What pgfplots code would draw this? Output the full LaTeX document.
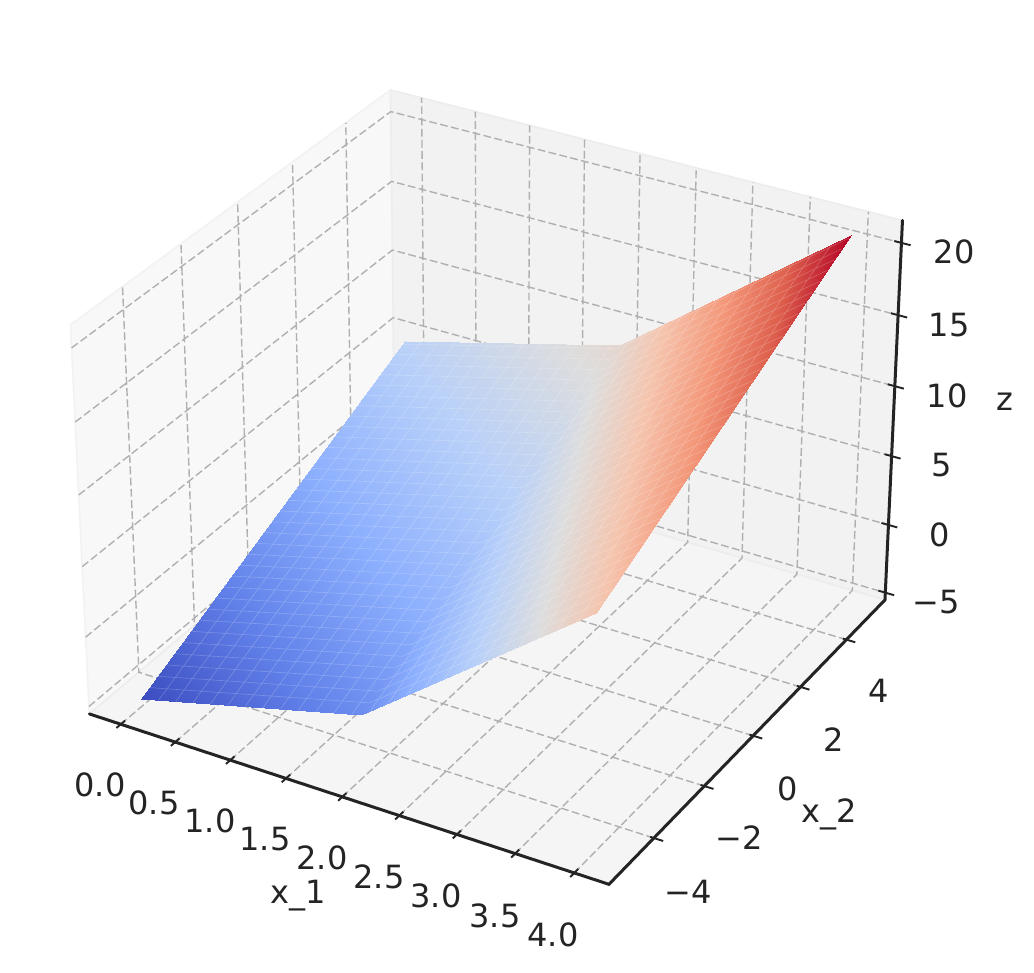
\documentclass[border=0pt]{standalone}
\usepackage{fontspec}
\setmainfont{DejaVu Sans}
\usepackage{pgfplots}
\pgfplotsset{compat=1.18}
\definecolor{ink}{HTML}{242424}
% perspective projection of matplotlib (elev 30, azim -60, dist 10), columns a=x_1, b=x_2, c=z
\newcommand\DEN{(10-(0.11247*(\thisrow{a}-2)-0.07793*\thisrow{b}+0.016485*(\thisrow{c}-8)))}
\newcommand\PX{494.5+5000*(0.22495*(\thisrow{a}-2)+0.05195*\thisrow{b})/\DEN}
\newcommand\PY{466-5020*(-0.06494*(\thisrow{a}-2)+0.04499*\thisrow{b}+0.02826*(\thisrow{c}-8)-0.004)/\DEN}
\pgfplotsset{table/proj/.style={x expr={\PX},y expr={\PY},row sep=\\}}
\newcommand\lab[3]{\node[text=ink,font=\fontsize{16}{18}\selectfont,anchor=center] at (axis cs:#1,#2) {#3};}
\begin{document}
\begin{tikzpicture}
\begin{axis}[
  scale only axis,width=517pt,height=486.5pt,
  xmin=0,xmax=1034,ymin=0,ymax=973,y dir=reverse,
  hide axis,clip=false,unbounded coords=jump,
  colormap={cw}{rgb255=(59,76,192) rgb255=(98,130,234) rgb255=(141,176,254) rgb255=(184,208,249) rgb255=(221,221,221) rgb255=(245,196,173) rgb255=(244,152,122) rgb255=(222,96,77) rgb255=(180,4,38)},
  point meta min=-5,point meta max=21,
]
% page
\addplot[fill=white,draw=none] coordinates {(0,0) (1034,0) (1034,973) (0,973)};
% panes
\addplot[fill=black!2.7,draw=black!5,line width=0.8pt] table[proj] {a b c\\ -0.2917 -5.729 -5.54\\ -0.2917 5.729 -5.54\\ -0.2917 5.729 21.54\\ -0.2917 -5.729 21.54\\ -0.2917 -5.729 -5.54\\};
\addplot[fill=black!5.2,draw=black!7,line width=0.8pt] table[proj] {a b c\\ -0.2917 5.729 -5.54\\ 4.2917 5.729 -5.54\\ 4.2917 5.729 21.54\\ -0.2917 5.729 21.54\\ -0.2917 5.729 -5.54\\};
\addplot[fill=black!4,draw=black!7,line width=0.8pt] table[proj] {a b c\\ -0.2917 -5.729 -5.54\\ 4.2917 -5.729 -5.54\\ 4.2917 5.729 -5.54\\ -0.2917 5.729 -5.54\\ -0.2917 -5.729 -5.54\\};
% grid
\addplot[color=black!31,line width=0.7pt,dash pattern=on 3.9pt off 1.7pt] table[proj] {a b c\\
0 -5.729 -5.54\\ 0 5.729 -5.54\\ 0 5.729 21.54\\ nan nan nan\\
0.5 -5.729 -5.54\\ 0.5 5.729 -5.54\\ 0.5 5.729 21.54\\ nan nan nan\\
1 -5.729 -5.54\\ 1 5.729 -5.54\\ 1 5.729 21.54\\ nan nan nan\\
1.5 -5.729 -5.54\\ 1.5 5.729 -5.54\\ 1.5 5.729 21.54\\ nan nan nan\\
2 -5.729 -5.54\\ 2 5.729 -5.54\\ 2 5.729 21.54\\ nan nan nan\\
2.5 -5.729 -5.54\\ 2.5 5.729 -5.54\\ 2.5 5.729 21.54\\ nan nan nan\\
3 -5.729 -5.54\\ 3 5.729 -5.54\\ 3 5.729 21.54\\ nan nan nan\\
3.5 -5.729 -5.54\\ 3.5 5.729 -5.54\\ 3.5 5.729 21.54\\ nan nan nan\\
4 -5.729 -5.54\\ 4 5.729 -5.54\\ 4 5.729 21.54\\ nan nan nan\\
4.2917 -4 -5.54\\ -0.2917 -4 -5.54\\ -0.2917 -4 21.54\\ nan nan nan\\
4.2917 -2 -5.54\\ -0.2917 -2 -5.54\\ -0.2917 -2 21.54\\ nan nan nan\\
4.2917 0 -5.54\\ -0.2917 0 -5.54\\ -0.2917 0 21.54\\ nan nan nan\\
4.2917 2 -5.54\\ -0.2917 2 -5.54\\ -0.2917 2 21.54\\ nan nan nan\\
4.2917 4 -5.54\\ -0.2917 4 -5.54\\ -0.2917 4 21.54\\ nan nan nan\\
-0.2917 -5.729 -5\\ -0.2917 5.729 -5\\ 4.2917 5.729 -5\\ nan nan nan\\
-0.2917 -5.729 0\\ -0.2917 5.729 0\\ 4.2917 5.729 0\\ nan nan nan\\
-0.2917 -5.729 5\\ -0.2917 5.729 5\\ 4.2917 5.729 5\\ nan nan nan\\
-0.2917 -5.729 10\\ -0.2917 5.729 10\\ 4.2917 5.729 10\\ nan nan nan\\
-0.2917 -5.729 15\\ -0.2917 5.729 15\\ 4.2917 5.729 15\\ nan nan nan\\
-0.2917 -5.729 20\\ -0.2917 5.729 20\\ 4.2917 5.729 20\\
};
% surface
\addplot[surf,shader=interp,mesh/cols=3,point meta={\thisrow{c}}] table[proj] {a b c\\
0 -5 -5\\ 2 -5 -1\\ 4 -5 11\\
0 5 5\\ 2 5 9\\ 4 5 21\\
};
% facet seams
\addplot[color=white,opacity=0.22,line width=0.3pt] table[proj] {a b c\\
0.16 -5 -4.68\\ 0.16 5 5.32\\ nan nan nan\\ 0.32 -5 -4.36\\ 0.32 5 5.64\\ nan nan nan\\
0.48 -5 -4.04\\ 0.48 5 5.96\\ nan nan nan\\ 0.64 -5 -3.72\\ 0.64 5 6.28\\ nan nan nan\\
0.8 -5 -3.4\\ 0.8 5 6.6\\ nan nan nan\\ 0.96 -5 -3.08\\ 0.96 5 6.92\\ nan nan nan\\
1.12 -5 -2.76\\ 1.12 5 7.24\\ nan nan nan\\ 1.28 -5 -2.44\\ 1.28 5 7.56\\ nan nan nan\\
1.44 -5 -2.12\\ 1.44 5 7.88\\ nan nan nan\\ 1.6 -5 -1.8\\ 1.6 5 8.2\\ nan nan nan\\
1.76 -5 -1.48\\ 1.76 5 8.52\\ nan nan nan\\ 1.92 -5 -1.16\\ 1.92 5 8.84\\ nan nan nan\\
2.08 -5 -0.52\\ 2.08 5 9.48\\ nan nan nan\\ 2.24 -5 0.44\\ 2.24 5 10.44\\ nan nan nan\\
2.4 -5 1.4\\ 2.4 5 11.4\\ nan nan nan\\ 2.56 -5 2.36\\ 2.56 5 12.36\\ nan nan nan\\
2.72 -5 3.32\\ 2.72 5 13.32\\ nan nan nan\\ 2.88 -5 4.28\\ 2.88 5 14.28\\ nan nan nan\\
3.04 -5 5.24\\ 3.04 5 15.24\\ nan nan nan\\ 3.2 -5 6.2\\ 3.2 5 16.2\\ nan nan nan\\
3.36 -5 7.16\\ 3.36 5 17.16\\ nan nan nan\\ 3.52 -5 8.12\\ 3.52 5 18.12\\ nan nan nan\\
3.68 -5 9.08\\ 3.68 5 19.08\\ nan nan nan\\ 3.84 -5 10.04\\ 3.84 5 20.04\\ nan nan nan\\
0 -4.7 -4.7\\ 2 -4.7 -0.7\\ 4 -4.7 11.3\\ nan nan nan\\
0 -4.4 -4.4\\ 2 -4.4 -0.4\\ 4 -4.4 11.6\\ nan nan nan\\
0 -4.1 -4.1\\ 2 -4.1 -0.1\\ 4 -4.1 11.9\\ nan nan nan\\
0 -3.8 -3.8\\ 2 -3.8 0.2\\ 4 -3.8 12.2\\ nan nan nan\\
0 -3.5 -3.5\\ 2 -3.5 0.5\\ 4 -3.5 12.5\\ nan nan nan\\
0 -3.2 -3.2\\ 2 -3.2 0.8\\ 4 -3.2 12.8\\ nan nan nan\\
0 -2.9 -2.9\\ 2 -2.9 1.1\\ 4 -2.9 13.1\\ nan nan nan\\
0 -2.6 -2.6\\ 2 -2.6 1.4\\ 4 -2.6 13.4\\ nan nan nan\\
0 -2.3 -2.3\\ 2 -2.3 1.7\\ 4 -2.3 13.7\\ nan nan nan\\
0 -2 -2\\ 2 -2 2\\ 4 -2 14\\ nan nan nan\\
0 -1.7 -1.7\\ 2 -1.7 2.3\\ 4 -1.7 14.3\\ nan nan nan\\
0 -1.4 -1.4\\ 2 -1.4 2.6\\ 4 -1.4 14.6\\ nan nan nan\\
0 -1.1 -1.1\\ 2 -1.1 2.9\\ 4 -1.1 14.9\\ nan nan nan\\
0 -0.8 -0.8\\ 2 -0.8 3.2\\ 4 -0.8 15.2\\ nan nan nan\\
0 -0.5 -0.5\\ 2 -0.5 3.5\\ 4 -0.5 15.5\\ nan nan nan\\
0 -0.2 -0.2\\ 2 -0.2 3.8\\ 4 -0.2 15.8\\ nan nan nan\\
0 0.1 0.1\\ 2 0.1 4.1\\ 4 0.1 16.1\\ nan nan nan\\
0 0.4 0.4\\ 2 0.4 4.4\\ 4 0.4 16.4\\ nan nan nan\\
0 0.7 0.7\\ 2 0.7 4.7\\ 4 0.7 16.7\\ nan nan nan\\
0 1 1\\ 2 1 5\\ 4 1 17\\ nan nan nan\\
0 1.3 1.3\\ 2 1.3 5.3\\ 4 1.3 17.3\\ nan nan nan\\
0 1.6 1.6\\ 2 1.6 5.6\\ 4 1.6 17.6\\ nan nan nan\\
0 1.9 1.9\\ 2 1.9 5.9\\ 4 1.9 17.9\\ nan nan nan\\
0 2.2 2.2\\ 2 2.2 6.2\\ 4 2.2 18.2\\ nan nan nan\\
0 2.5 2.5\\ 2 2.5 6.5\\ 4 2.5 18.5\\ nan nan nan\\
0 2.8 2.8\\ 2 2.8 6.8\\ 4 2.8 18.8\\ nan nan nan\\
0 3.1 3.1\\ 2 3.1 7.1\\ 4 3.1 19.1\\ nan nan nan\\
0 3.4 3.4\\ 2 3.4 7.4\\ 4 3.4 19.4\\ nan nan nan\\
0 3.7 3.7\\ 2 3.7 7.7\\ 4 3.7 19.7\\ nan nan nan\\
0 4 4\\ 2 4 8\\ 4 4 20\\ nan nan nan\\
0 4.3 4.3\\ 2 4.3 8.3\\ 4 4.3 20.3\\ nan nan nan\\
0 4.6 4.6\\ 2 4.6 8.6\\ 4 4.6 20.6\\ nan nan nan\\
0 4.9 4.9\\ 2 4.9 8.9\\ 4 4.9 20.9\\
};
% axis lines
\addplot[color=ink,line width=1.5pt,line cap=round] table[proj] {a b c\\ -0.2917 -5.729 -5.54\\ 4.2917 -5.729 -5.54\\ 4.2917 5.729 -5.54\\ 4.2917 5.729 21.54\\};
% tick marks
\addplot[color=ink,line width=0.95pt] table[proj] {a b c\\
0 -5.88 -5.54\\ 0 -5.58 -5.54\\ nan nan nan\\ 0.5 -5.88 -5.54\\ 0.5 -5.58 -5.54\\ nan nan nan\\
1 -5.88 -5.54\\ 1 -5.58 -5.54\\ nan nan nan\\ 1.5 -5.88 -5.54\\ 1.5 -5.58 -5.54\\ nan nan nan\\
2 -5.88 -5.54\\ 2 -5.58 -5.54\\ nan nan nan\\ 2.5 -5.88 -5.54\\ 2.5 -5.58 -5.54\\ nan nan nan\\
3 -5.88 -5.54\\ 3 -5.58 -5.54\\ nan nan nan\\ 3.5 -5.88 -5.54\\ 3.5 -5.58 -5.54\\ nan nan nan\\
4 -5.88 -5.54\\ 4 -5.58 -5.54\\ nan nan nan\\
4.26 -4 -5.54\\ 4.37 -4 -5.54\\ nan nan nan\\ 4.26 -2 -5.54\\ 4.37 -2 -5.54\\ nan nan nan\\
4.26 0 -5.54\\ 4.37 0 -5.54\\ nan nan nan\\ 4.26 2 -5.54\\ 4.37 2 -5.54\\ nan nan nan\\
4.26 4 -5.54\\ 4.37 4 -5.54\\ nan nan nan\\
4.23 5.729 -5\\ 4.37 5.729 -5\\ nan nan nan\\ 4.23 5.729 0\\ 4.37 5.729 0\\ nan nan nan\\
4.23 5.729 5\\ 4.37 5.729 5\\ nan nan nan\\ 4.23 5.729 10\\ 4.37 5.729 10\\ nan nan nan\\
4.23 5.729 15\\ 4.37 5.729 15\\ nan nan nan\\ 4.23 5.729 20\\ 4.37 5.729 20\\
};
% labels
\lab{100}{785}{0.0}\lab{154}{803}{0.5}\lab{210}{821}{1.0}\lab{265}{839}{1.5}\lab{322}{858}{2.0}
\lab{379}{877}{2.5}\lab{436}{896}{3.0}\lab{495}{916}{3.5}\lab{553}{935}{4.0}
\lab{688}{892}{−4}\lab{739}{838}{−2}\lab{788}{789}{0}\lab{834}{740}{2}\lab{879}{691}{4}
\lab{936}{602}{−5}\lab{940}{535}{0}\lab{942}{465}{5}\lab{947}{396}{10}\lab{949}{325}{15}\lab{954}{252}{20}
\lab{298}{896}{x\_1}\lab{829}{814}{x\_2}\lab{1005}{402}{z}
\end{axis}
\end{tikzpicture}
\end{document}
